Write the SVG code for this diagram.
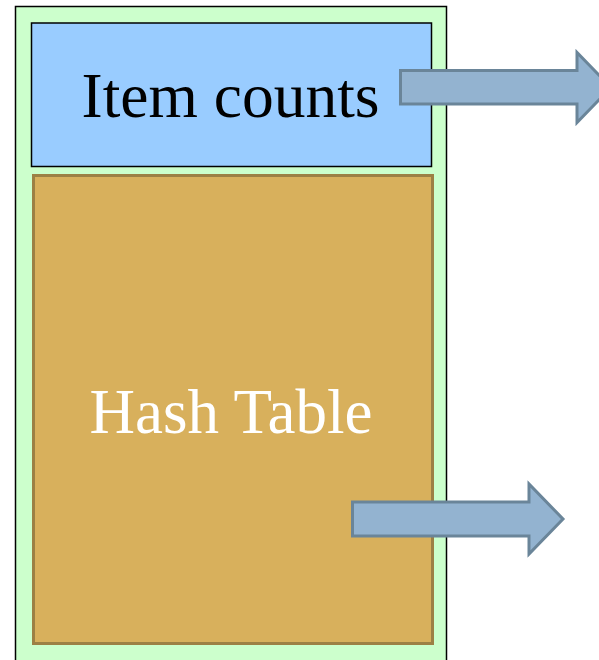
<svg xmlns="http://www.w3.org/2000/svg" width="599" height="660" viewBox="0 0 599 660">
  <style>
    .lbl { font-family: "Liberation Serif", "Times New Roman", serif; text-anchor: middle; }
    .arrow { fill: #93b3d0; stroke: #6a8599; stroke-width: 3; stroke-linejoin: miter; }
  </style>
  <rect width="599" height="660" fill="#ffffff"/>
  <g id="container">
    <rect x="15.5" y="6.5" width="431" height="660" fill="#ccffcc" stroke="#000000" stroke-width="1.5"/>
  </g>
  <g id="item-counts">
    <rect x="31.5" y="23" width="400" height="143.5" fill="#99ccff" stroke="#000000" stroke-width="1.5"/>
    <text class="lbl" x="230.5" y="117" font-size="63.5" fill="#000000">Item counts</text>
  </g>
  <g id="hash-table">
    <rect x="33.5" y="175.5" width="399" height="468" fill="#d8b05c" stroke="#9c8044" stroke-width="3"/>
    <text class="lbl" x="231" y="432.5" font-size="63" fill="#ffffff">Hash Table</text>
  </g>
  <g id="connectors">
    <polygon class="arrow" points="400.5,70.5 577,70.5 577,52.5 611,87.5 577,122.5 577,104 400.5,104"/>
    <polygon class="arrow" points="352.5,502 529,502 529,484 563,519 529,554 529,536 352.5,536"/>
  </g>
</svg>
